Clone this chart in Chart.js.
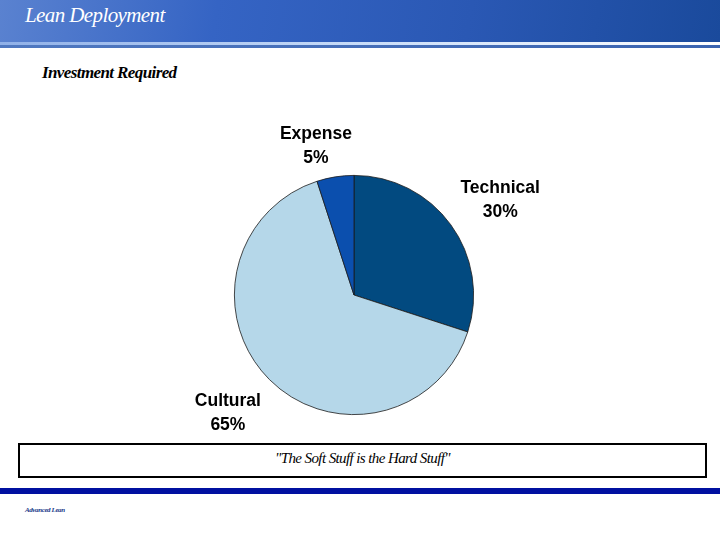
<!DOCTYPE html>
<html>
<head>
<meta charset="utf-8">
<script src="https://cdn.jsdelivr.net/npm/chart.js@4/dist/chart.umd.min.js"></script>
<style>
  body { margin: 0; width: 720px; height: 540px; background: #fff; position: relative; overflow: hidden; }
  #header { position: absolute; left: 0; top: 0; width: 720px; height: 42px;
    background: linear-gradient(100deg, #5a82d0 0%, #3564c4 30%, #2a58b4 65%, #1a4a9c 100%); }
  #hline { position: absolute; left: 0; top: 42px; width: 720px; height: 3px;
    background: linear-gradient(90deg, #8fb0e8 0%, #c8dcf8 50%, #ffffff 100%); }
  #hbottom { position: absolute; left: 0; top: 45px; width: 720px; height: 3px;
    background: linear-gradient(90deg, #4f78c0 0%, #3b64b0 100%); }
  #title { position: absolute; left: 25px; top: 3px; color: #fff; font-family: "Liberation Serif", serif;
    font-style: italic; font-size: 21px; letter-spacing: -0.6px; }
  #sub { position: absolute; left: 42px; top: 63px; color: #000; font-family: "Liberation Serif", serif;
    font-style: italic; font-weight: bold; font-size: 17px; letter-spacing: -0.6px; }
  #wrap { position: absolute; left: 150px; top: 110px; width: 410px; height: 330px; }
  #box { position: absolute; left: 18px; top: 443px; width: 685px; height: 31px; border: 2px solid #000;
    text-align: center; font-family: "Liberation Serif", serif; font-style: italic; font-size: 15px;
    line-height: 26px; letter-spacing: -0.6px; }
  #bar { position: absolute; left: 0; top: 488px; width: 720px; height: 6px; background: #0010a0; }
  #foot { position: absolute; left: 25px; top: 506px; font-family: "Liberation Serif", serif; font-style: italic;
    font-weight: bold; font-size: 7px; color: #1a3a8a; letter-spacing: -0.4px; }
</style>
</head>
<body>
<div id="header"></div>
<div id="hline"></div>
<div id="hbottom"></div>
<div id="title">Lean Deployment</div>
<div id="sub">Investment Required</div>
<div id="wrap"><canvas id="chart" width="410" height="330"></canvas></div>
<div id="box">"The Soft Stuff is the Hard Stuff"</div>
<div id="bar"></div>
<div id="foot">Advanced Lean</div>
<script>
var categories = ["Technical", "Cultural", "Expense"];
var values = [30, 65, 5];
var colors = ["#024a80", "#b5d7e9", "#0b4fae"];

/**
 * Draw "Name / NN%" labels just outside each slice
 */
var outsideLabels = {
  id: 'outsideLabels',
  afterDatasetsDraw: function(chart) {
    var ctx = chart.ctx;
    var meta = chart.getDatasetMeta(0);
    var total = values.reduce(function(a, b) { return a + b; }, 0);
    ctx.save();
    ctx.font = "bold 17.5px 'Liberation Sans', Arial, sans-serif";
    ctx.fillStyle = "#000";
    ctx.textAlign = "center";
    ctx.textBaseline = "top";
    meta.data.forEach(function(arc, i) {
      var mid = (arc.startAngle + arc.endAngle) / 2;
      var c = Math.cos(mid), s = Math.sin(mid);
      var r = arc.outerRadius + 12;
      var x = arc.x + c * r;
      var y = arc.y + s * r;
      var lines = [categories[i], Math.round(values[i] / total * 100) + "%"];
      var lh = 24;
      var h = lh * lines.length;
      var w = ctx.measureText(lines[0]).width;
      var top;
      if (Math.abs(c) < 0.3) {
        x = arc.x + c * r * 1.85;
        top = y - h + 8;
      } else {
        x = c > 0 ? x + w / 2 : x - w / 2;
        top = s > 0.3 ? y + 4 : y - h + 10;
      }
      lines.forEach(function(t, k) {
        ctx.fillText(t, x, top + k * lh);
      });
    });
    ctx.restore();
  }
};

new Chart(document.getElementById("chart").getContext("2d"), {
  type: 'pie',
  data: {
    labels: categories,
    datasets: [{
      data: values,
      backgroundColor: colors,
      borderColor: "#1a1a1a",
      borderWidth: 0.8
    }]
  },
  options: {
    responsive: false,
    animation: false,
    layout: { padding: { top: 65, bottom: 25, left: 84, right: 86 } },
    plugins: { legend: { display: false }, tooltip: { enabled: false } }
  },
  plugins: [outsideLabels]
});
</script>
</body>
</html>
